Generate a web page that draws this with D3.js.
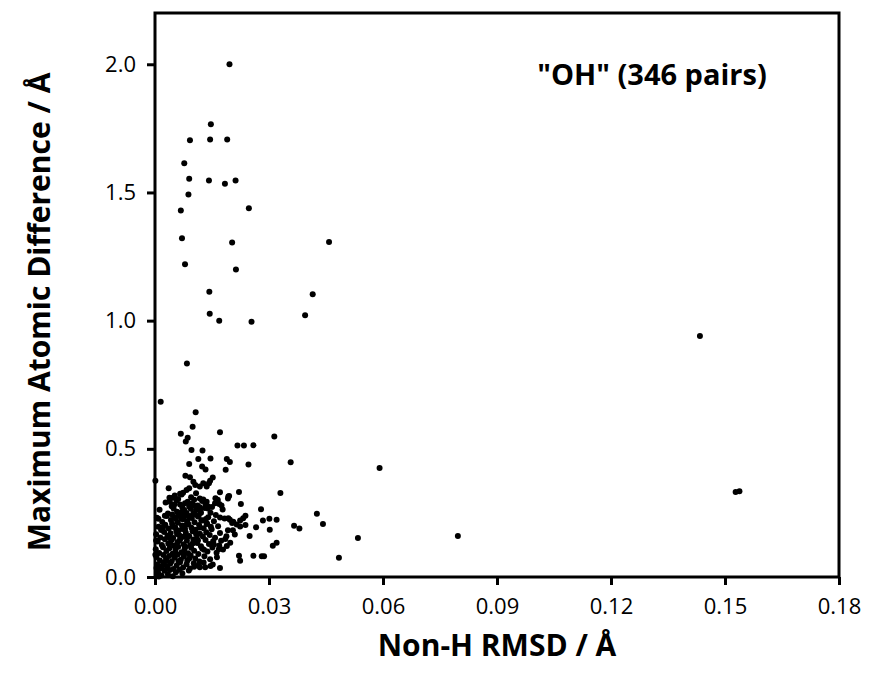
<!DOCTYPE html>
<html>
<head>
<meta charset="utf-8">
<script src="https://cdn.jsdelivr.net/npm/d3@7"></script>
<style>
  body { margin: 0; background: #fff; }
  svg text { font-family: "Open Sans", "DejaVu Sans", sans-serif; }
</style>
</head>
<body>
<div id="chart"></div>
<script>
// [non-H RMSD, max atomic difference], both in Å

// high max-difference pairs
const upperPairs = [
  [0.0196, 2.000], [0.0147, 1.766], [0.0092, 1.704], [0.0145, 1.707], [0.0190, 1.707],
  [0.0077, 1.614], [0.0090, 1.553], [0.0142, 1.547], [0.0184, 1.534], [0.0212, 1.547],
  [0.0088, 1.492], [0.0068, 1.430], [0.0247, 1.438], [0.0071, 1.321], [0.0203, 1.305],
  [0.0458, 1.307], [0.0079, 1.220], [0.0213, 1.199], [0.0143, 1.113], [0.0415, 1.103],
  [0.0144, 1.027], [0.0169, 1.000], [0.0254, 0.996], [0.0395, 1.021], [0.0084, 0.833],
  [0.1434, 0.940]
];

// far right / isolated pairs
const outlierPairs = [
  [0.1528, 0.332], [0.1538, 0.334], [0.0797, 0.160], [0.0591, 0.425],
  [0.0534, 0.152], [0.0484, 0.075], [0.0426, 0.247], [0.0442, 0.207]
];

const midPairs = [
  [0.0015, 0.684], [0.0107, 0.643], [0.0099, 0.586], [0.0068, 0.559], [0.0086, 0.543],
  [0.0081, 0.529], [0.0171, 0.565], [0.0314, 0.548], [0.0096, 0.495], [0.0125, 0.493],
  [0.0217, 0.513], [0.0234, 0.513], [0.0259, 0.514], [0.0114, 0.460], [0.0146, 0.462],
  [0.0189, 0.460], [0.0197, 0.449], [0.0090, 0.441], [0.0124, 0.431], [0.0133, 0.419],
  [0.0186, 0.418], [0.0246, 0.439], [0.0357, 0.448], [0.0001, 0.375], [0.0080, 0.395],
  [0.0092, 0.389], [0.0152, 0.388], [0.0145, 0.375], [0.0106, 0.359], [0.0136, 0.353],
  [0.0036, 0.346], [0.0142, 0.366], [0.0101, 0.372], [0.0118, 0.353], [0.0127, 0.366]
];

const lowPairs = [
  [0.0066, 0.325], [0.0074, 0.329], [0.0083, 0.339], [0.0090, 0.346], [0.0171, 0.331],
  [0.0195, 0.316], [0.0192, 0.306], [0.0221, 0.332], [0.0330, 0.328], [0.0038, 0.309],
  [0.0047, 0.309], [0.0118, 0.306], [0.0103, 0.301], [0.0159, 0.307], [0.0164, 0.298],
  [0.0169, 0.285], [0.0226, 0.285], [0.0051, 0.283], [0.0079, 0.288], [0.0090, 0.275],
  [0.0101, 0.280], [0.0108, 0.262], [0.0118, 0.272], [0.0133, 0.284], [0.0139, 0.267],
  [0.0279, 0.264], [0.0026, 0.239], [0.0009, 0.227], [0.0068, 0.236], [0.0074, 0.225],
  [0.0092, 0.238], [0.0101, 0.249], [0.0115, 0.241], [0.0125, 0.220], [0.0136, 0.207],
  [0.0171, 0.232], [0.0197, 0.223], [0.0206, 0.216], [0.0224, 0.220], [0.0232, 0.229],
  [0.0238, 0.239], [0.0301, 0.227], [0.0320, 0.223], [0.0284, 0.220], [0.0366, 0.200],
  [0.0380, 0.189], [0.0266, 0.194], [0.0302, 0.184], [0.0249, 0.160], [0.0320, 0.134],
  [0.0310, 0.122], [0.0259, 0.083], [0.0281, 0.081], [0.0287, 0.081], [0.0221, 0.083],
  [0.0224, 0.063], [0.0171, 0.035], [0.0103, 0.040], [0.0118, 0.038], [0.0132, 0.038],
  [0.0146, 0.043], [0.0165, 0.301], [0.0158, 0.288], [0.0175, 0.279], [0.0193, 0.314],
  [0.0136, 0.294], [0.0140, 0.275], [0.0193, 0.229], [0.0039, 0.294], [0.0048, 0.281]
];

// dense cluster near the origin
const clusterPairs = [
  [0.0052, 0.318], [0.0061, 0.304], [0.0070, 0.322], [0.0095, 0.311], [0.0108, 0.327], [0.0127, 0.302],
  [0.0028, 0.291], [0.0044, 0.276], [0.0057, 0.298], [0.0066, 0.283], [0.0072, 0.271], [0.0086, 0.294],
  [0.0098, 0.287], [0.0112, 0.279], [0.0124, 0.296], [0.0150, 0.273],
  [0.0012, 0.262], [0.0034, 0.248], [0.0049, 0.267], [0.0058, 0.255], [0.0063, 0.243], [0.0077, 0.261],
  [0.0083, 0.250], [0.0094, 0.266], [0.0105, 0.245], [0.0119, 0.258], [0.0131, 0.269], [0.0146, 0.251],
  [0.0160, 0.242], [0.0178, 0.263],
  [0.0005, 0.231], [0.0019, 0.215], [0.0031, 0.238], [0.0042, 0.222], [0.0051, 0.234], [0.0060, 0.212],
  [0.0069, 0.227], [0.0078, 0.239], [0.0085, 0.218], [0.0097, 0.230], [0.0104, 0.214], [0.0113, 0.236],
  [0.0122, 0.221], [0.0140, 0.233], [0.0155, 0.217], [0.0183, 0.228], [0.0203, 0.211],
  [0.0009, 0.196], [0.0016, 0.183], [0.0027, 0.204], [0.0036, 0.189], [0.0045, 0.208], [0.0053, 0.194],
  [0.0062, 0.181], [0.0071, 0.201], [0.0079, 0.187], [0.0088, 0.206], [0.0096, 0.192], [0.0107, 0.184],
  [0.0116, 0.203], [0.0128, 0.190], [0.0137, 0.209], [0.0149, 0.186], [0.0166, 0.198], [0.0192, 0.182],
  [0.0215, 0.205],
  [0.0003, 0.167], [0.0014, 0.154], [0.0024, 0.176], [0.0033, 0.161], [0.0041, 0.171], [0.0048, 0.152],
  [0.0056, 0.179], [0.0064, 0.163], [0.0073, 0.157], [0.0081, 0.174], [0.0090, 0.160], [0.0099, 0.178],
  [0.0110, 0.151], [0.0118, 0.169], [0.0126, 0.158], [0.0135, 0.175], [0.0144, 0.164], [0.0158, 0.153],
  [0.0171, 0.172], [0.0188, 0.159], [0.0210, 0.166],
  [0.0007, 0.138], [0.0018, 0.125], [0.0026, 0.147], [0.0035, 0.131], [0.0043, 0.143], [0.0050, 0.122],
  [0.0059, 0.136], [0.0067, 0.149], [0.0075, 0.128], [0.0084, 0.141], [0.0093, 0.124], [0.0101, 0.146],
  [0.0111, 0.133], [0.0121, 0.120], [0.0133, 0.144], [0.0142, 0.129], [0.0153, 0.139], [0.0169, 0.123],
  [0.0185, 0.148], [0.0198, 0.134],
  [0.0002, 0.108], [0.0011, 0.094], [0.0021, 0.116], [0.0030, 0.101], [0.0038, 0.112], [0.0046, 0.091],
  [0.0054, 0.105], [0.0061, 0.118], [0.0070, 0.097], [0.0078, 0.110], [0.0087, 0.093], [0.0095, 0.114],
  [0.0103, 0.102], [0.0114, 0.090], [0.0124, 0.111], [0.0138, 0.099], [0.0151, 0.115], [0.0162, 0.095],
  [0.0179, 0.107],
  [0.0004, 0.078], [0.0013, 0.064], [0.0022, 0.086], [0.0029, 0.071], [0.0037, 0.082], [0.0044, 0.061],
  [0.0052, 0.075], [0.0060, 0.088], [0.0068, 0.067], [0.0076, 0.080], [0.0085, 0.063], [0.0094, 0.084],
  [0.0106, 0.072], [0.0117, 0.060], [0.0130, 0.081], [0.0145, 0.069], [0.0163, 0.077],
  [0.0006, 0.048], [0.0015, 0.034], [0.0023, 0.056], [0.0032, 0.041], [0.0040, 0.052], [0.0049, 0.031],
  [0.0057, 0.045], [0.0066, 0.058], [0.0074, 0.037], [0.0083, 0.050], [0.0092, 0.033], [0.0102, 0.054],
  [0.0115, 0.046], [0.0128, 0.057], [0.0152, 0.049],
  [0.0008, 0.018], [0.0017, 0.006], [0.0025, 0.024], [0.0034, 0.011], [0.0039, 0.027], [0.0047, 0.003],
  [0.0055, 0.019], [0.0065, 0.028], [0.0072, 0.014], [0.0089, 0.025],
  [0.0047, 0.196], [0.0055, 0.226], [0.0064, 0.141], [0.0072, 0.187], [0.0080, 0.118], [0.0058, 0.168],
  [0.0069, 0.252], [0.0086, 0.157], [0.0091, 0.232], [0.0075, 0.093], [0.0040, 0.133], [0.0052, 0.086],
  [0.0099, 0.131], [0.0083, 0.205], [0.0062, 0.061], [0.0108, 0.168], [0.0045, 0.244], [0.0038, 0.154],
  [0.0118, 0.193], [0.0090, 0.072],
  [0.0003, 0.142], [0.0001, 0.087], [0.0004, 0.035], [0.0010, 0.002], [0.0020, 0.045],
  [0.0121, 0.251], [0.0134, 0.226], [0.0147, 0.196], [0.0113, 0.142], [0.0129, 0.106], [0.0155, 0.127],
  [0.0174, 0.141], [0.0168, 0.108], [0.0189, 0.121], [0.0205, 0.182], [0.0224, 0.197], [0.0238, 0.203],
  [0.0021, 0.193], [0.0030, 0.062]
];

const xTicks = [0, 0.03, 0.06, 0.09, 0.12, 0.15, 0.18];
const yTicks = [0, 0.5, 1.0, 1.5, 2.0];

const allPairs = upperPairs.concat(outlierPairs, midPairs, lowPairs, clusterPairs);

const width = 875, height = 683;
const margin = {top: 13, right: 36, bottom: 106, left: 155};

const svg = d3.select("#chart")
  .append("svg")
  .attr("width", width)
  .attr("height", height);

const x = d3.scaleLinear()
  .domain([0, 0.18])
  .range([margin.left, width - margin.right]);

const y = d3.scaleLinear()
  .domain([0, 2.2])
  .range([height - margin.bottom, margin.top]);

// x axis
const xAxis = svg.append("g")
  .attr("transform", `translate(0,${height - margin.bottom})`)
  .call(d3.axisBottom(x).tickValues(xTicks).tickFormat(d3.format(".2f")).tickSize(8).tickSizeOuter(0).tickPadding(13));

// y axis
const yAxis = svg.append("g")
  .attr("transform", `translate(${margin.left},0)`)
  .call(d3.axisLeft(y).tickValues(yTicks).tickFormat(d3.format(".1f")).tickSize(8).tickSizeOuter(0).tickPadding(11));

[xAxis, yAxis].forEach(g => {
  g.select(".domain").remove();
  g.selectAll(".tick line").attr("stroke", "#000").attr("stroke-width", 3);
  g.selectAll(".tick text")
    .attr("fill", "#000")
    .style("font-size", "22px");
});

// plot frame
svg.append("rect")
  .attr("x", x(0))
  .attr("y", y(2.2))
  .attr("width", x(0.18) - x(0))
  .attr("height", y(0) - y(2.2))
  .attr("fill", "none")
  .attr("stroke", "#000")
  .attr("stroke-width", 3);

// points
svg.append("g")
  .selectAll("circle")
  .data(allPairs)
  .enter()
  .append("circle")
  .attr("cx", d => x(d[0]))
  .attr("cy", d => y(d[1]))
  .attr("r", 3)
  .attr("fill", "#000");

// axis titles
svg.append("text")
  .attr("x", (x(0) + x(0.18)) / 2)
  .attr("y", 656)
  .attr("text-anchor", "middle")
  .style("font-size", "30px")
  .style("font-weight", "bold")
  .text("Non-H RMSD / Å");

svg.append("text")
  .attr("transform", `translate(50,${(y(0) + y(2.2)) / 2 + 17}) rotate(-90)`)
  .attr("text-anchor", "middle")
  .style("font-size", "30px")
  .style("font-weight", "bold")
  .text("Maximum Atomic Difference / Å");

// annotation
svg.append("text")
  .attr("x", 652)
  .attr("y", 85)
  .attr("text-anchor", "middle")
  .style("font-size", "29px")
  .style("font-weight", "bold")
  .text("\"OH\" (346 pairs)");
</script>
</body>
</html>
